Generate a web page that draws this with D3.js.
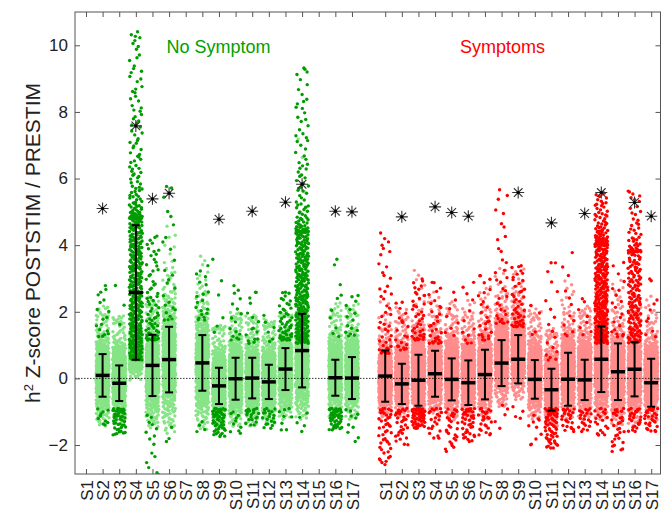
<!DOCTYPE html>
<html>
<head>
<meta charset="utf-8">
<script src="https://cdn.jsdelivr.net/npm/d3@7"></script>
<style>
  body { margin: 0; background: #fff; }
  text { font-family: "Liberation Sans", Arial, sans-serif; }
</style>
</head>
<body>
<svg id="chart" width="671" height="513"></svg>
<script>
var labels = ["S1","S2","S3","S4","S5","S6","S7","S8","S9","S10","S11","S12","S13","S14","S15","S16","S17"]
var yTicks = [-2, 0, 2, 4, 6, 8, 10]

// mean and SD of h2 z-score per subject (null = no data)
var nsMean = [null, 0.09, -0.145, 2.58, 0.39, 0.565, null, 0.465, -0.225, -0.01, 0.01, -0.105, 0.28, 0.835, null, 0.02, 0.01]
var nsSD   = [null, 0.64, 0.535, 2.02, 0.92, 0.985, null, 0.835, 0.545, 0.63, 0.61, 0.515, 0.63, 1.105, null, 0.54, 0.63]
var symMean = [0.07, -0.165, -0.055, 0.14, -0.03, -0.13, 0.115, 0.46, 0.575, -0.03, -0.34, -0.025, -0.045, 0.575, 0.2, 0.275, -0.13]
var symSD   = [0.77, 0.605, 0.765, 0.69, 0.63, 0.67, 0.745, 0.69, 0.725, 0.58, 0.63, 0.795, 0.605, 0.985, 0.85, 0.815, 0.72]

// significance markers (y of asterisk)
var nsStar  = [null, 5.1, null, 7.58, 5.39, 5.56, null, null, 4.78, null, 5.02, null, 5.29, 5.83, null, 5.02, 5.0]
var symStar = [null, 4.85, null, 5.15, 4.98, 4.87, null, null, 5.58, null, 4.67, null, 4.95, 5.58, null, 5.28, 4.87]

// point clouds:
// [bandLo, bandHi, lightTop, darkUpFrom, darkUpTo, darkUpN, darkDnFrom, darkDnTo, darkDnN, darkDenseTo]
var nsCloud = [
  null,
  [-1.2, 1.4, 2.2, 1.5, 2.8, 18, -1.0, -1.4, 10],
  [-1.1, 1.2, 1.9, 1.8, 2.8, 3, -1.0, -1.7, 45],
  [0.2, 1.3, 1.5, 0.8, 10.5, 450, -0.3, -0.6, 0, 4.8],
  [-1.3, 1.7, 2.5, 1.4, 4.3, 70, -1.2, -2.9, 15],
  [-1.4, 2.6, 4.6, 2.0, 5.8, 25, -1.5, -1.9, 3],
  null,
  [-1.3, 2.1, 3.8, 2.0, 3.4, 20, -1.3, -1.6, 4],
  [-1.3, 1.0, 1.6, 1.5, 3.6, 6, -1.0, -1.75, 50],
  [-1.2, 1.3, 2.0, 1.4, 2.8, 16, -1.1, -1.65, 10],
  [-1.2, 1.2, 1.9, 1.3, 2.6, 16, -1.0, -1.4, 20],
  [-1.1, 1.1, 1.8, 1.3, 1.9, 6, -1.0, -1.5, 20],
  [-1.0, 1.4, 2.0, 1.4, 2.6, 50, -1.0, -1.55, 8],
  [-1.0, 1.8, 7.5, 1.3, 9.4, 340, -1.1, -1.6, 5, 4.4],
  null,
  [-1.0, 1.4, 2.3, 1.5, 3.6, 10, -1.0, -1.55, 45],
  [-1.0, 1.4, 2.3, 1.5, 2.5, 15, -1.0, -1.9, 10]
]
var symCloud = [
  [-1.0, 1.0, 2.4, 1.0, 4.4, 45, -1.0, -2.6, 45],
  [-1.0, 1.2, 2.2, 1.1, 2.3, 20, -1.0, -2.0, 30],
  [-1.1, 1.5, 3.3, 1.4, 3.0, 40, -1.0, -1.5, 50],
  [-0.9, 1.4, 2.6, 1.3, 2.9, 30, -1.0, -1.8, 22],
  [-1.0, 1.4, 2.4, 1.5, 2.6, 8, -1.0, -2.2, 30],
  [-1.0, 1.3, 2.4, 1.3, 2.9, 12, -1.0, -1.9, 40],
  [-1.0, 1.5, 2.8, 1.4, 3.1, 25, -1.0, -1.7, 25],
  [-0.6, 2.0, 3.4, 1.9, 5.7, 35, -0.9, -1.5, 5],
  [-0.4, 2.1, 3.3, 1.8, 3.4, 45, -0.8, -1.2, 4],
  [-1.0, 1.3, 2.2, 1.5, 2.2, 4, -1.2, -2.0, 10],
  [-1.2, 0.8, 1.5, 0.8, 3.5, 18, -1.0, -2.1, 65],
  [-1.0, 1.5, 3.0, 1.5, 3.8, 12, -1.0, -1.6, 25],
  [-1.0, 1.4, 2.2, 1.5, 2.4, 8, -1.0, -1.6, 22],
  [-1.0, 1.8, 3.0, 1.3, 5.6, 320, -1.0, -1.7, 20, 4.0],
  [-1.2, 1.5, 3.0, 1.5, 3.5, 20, -1.0, -2.2, 30],
  [-1.2, 1.5, 2.6, 1.3, 5.7, 180, -1.0, -1.6, 25, 3.8],
  [-1.0, 1.2, 2.5, 1.5, 3.0, 10, -1.0, -1.6, 30]
]

var groups = [
  {mean: nsMean, sd: nsSD, star: nsStar, cloud: nsCloud, first: 1, light: "#86e486", dark: "#009c00"},
  {mean: symMean, sd: symSD, star: symStar, cloud: symCloud, first: 19, light: "#ff8c8c", dark: "#ff0000"}
]

var svg = d3.select("#chart")
var x = d3.scaleLinear().domain([0.34, 35.56]).range([75, 660.5])
var y = d3.scaleLinear().domain([-2.87, 11.0]).range([474, 12])

svg.append("clipPath").attr("id", "plot")
  .append("rect").attr("x", 75).attr("y", 12).attr("width", 585.5).attr("height", 462)

// spread the described distributions into strip points (halton quantiles, no randomness)
function halton(i, b) {
  var f = 1, r = 0
  while (i > 0) { f /= b; r += f * (i % b); i = Math.floor(i / b) }
  return r
}
var W = 0.78
var lightPts = [], darkPts = []
groups.forEach(function(g, gi) {
  g.cloud.forEach(function(p, k) {
    if (!p) return
    var pos = g.first + k, off = 1 + k * 37 + gi * 11
    var n = 540, c = (p[0] + p[1]) / 2, s = (p[1] - p[0]) / 6.5
    var top = p[1] + 0.45
    for (var i = 0; i < n; i++) {
      var q = halton(i + off, 2)
      var v = c + s * Math.log(q / (1 - q))
      if (v < p[0] - 0.25 || v > top) continue
      lightPts.push({x: pos + (halton(i + off, 3) - 0.5) * W, y: v, c: g.light})
    }
    if (p[2] > top) {
      for (var i = 0; i < 14; i++) {
        var q = halton(i + off, 2)
        lightPts.push({x: pos + (halton(i + off, 5) - 0.5) * W, y: top + (p[2] - top) * Math.pow(q, 1.8), c: g.light})
      }
    }
    // dark upper tail, eased into the top of the band
    var u0 = p[3] - 0.25
    for (var i = 0; i < p[5]; i++) {
      var q = i === 0 ? 0.995 : halton(i + off, 2), v
      if (p[9] !== undefined) {
        // dense body up to darkDenseTo, then a thinning tail
        v = q < 0.72 ? u0 + (p[9] - u0) * Math.pow(q / 0.72, 1.15)
                     : p[9] + (p[4] - p[9]) * Math.pow((q - 0.72) / 0.28, 2.3)
      } else {
        v = u0 + (p[4] - u0) * Math.pow(q, 1.8)
      }
      darkPts.push({x: pos + (halton(i + off, 3) - 0.5) * W, y: v, c: g.dark})
    }
    // dark lower tail
    var d0 = p[6] + 0.1
    for (var i = 0; i < p[8]; i++) {
      var q = i === 0 ? 0.995 : halton(i + off, 2)
      darkPts.push({x: pos + (halton(i + off, 5) - 0.5) * W, y: d0 - (d0 - p[7]) * Math.pow(q, 1.4), c: g.dark})
    }
  })
})

var pts = svg.append("g").attr("clip-path", "url(#plot)")
pts.selectAll("circle.l").data(lightPts).enter().append("circle")
  .attr("cx", function(d) { return x(d.x) })
  .attr("cy", function(d) { return y(d.y) })
  .attr("r", 1.7)
  .attr("fill", function(d) { return d.c })
pts.selectAll("circle.d").data(darkPts).enter().append("circle")
  .attr("cx", function(d) { return x(d.x) })
  .attr("cy", function(d) { return y(d.y) })
  .attr("r", 1.7)
  .attr("fill", function(d) { return d.c })

// zero line
svg.append("line")
  .attr("x1", 75).attr("x2", 660.5)
  .attr("y1", y(0)).attr("y2", y(0))
  .attr("stroke", "#000").attr("stroke-width", 0.8)
  .attr("stroke-dasharray", "1.5,1.5")

// mean +- SD bars and asterisks
groups.forEach(function(g) {
  g.mean.forEach(function(m, k) {
    if (m === null) return
    var cx = x(g.first + k), sd = g.sd[k]
    var eb = svg.append("g").attr("stroke", "#000")
    eb.append("line").attr("x1", cx).attr("x2", cx).attr("y1", y(m - sd)).attr("y2", y(m + sd)).attr("stroke-width", 2)
    eb.append("line").attr("x1", cx - 4).attr("x2", cx + 4).attr("y1", y(m - sd)).attr("y2", y(m - sd)).attr("stroke-width", 2)
    eb.append("line").attr("x1", cx - 4).attr("x2", cx + 4).attr("y1", y(m + sd)).attr("y2", y(m + sd)).attr("stroke-width", 2)
    eb.append("line").attr("x1", cx - 7).attr("x2", cx + 7).attr("y1", y(m)).attr("y2", y(m)).attr("stroke-width", 3.5)
  })
  g.star.forEach(function(v, k) {
    if (v === null) return
    var st = svg.append("g").attr("transform", "translate(" + x(g.first + k) + "," + y(v) + ")")
    st.append("path")
      .attr("d", "M-6,0L6,0M0,-6L0,6M-4.3,-4.3L4.3,4.3M-4.3,4.3L4.3,-4.3")
      .attr("stroke", "#333").attr("stroke-width", 1.1).attr("fill", "none")
    st.append("circle").attr("r", 1.6).attr("fill", "#000")
  })
})

// axes box with inward ticks
var tickPos = labels.map(function(d, i) { return i + 1 }).concat(labels.map(function(d, i) { return i + 19 }))
var tickLab = labels.concat(labels)

var xb = svg.append("g").attr("transform", "translate(0,474)")
  .call(d3.axisBottom(x).tickValues(tickPos).tickSize(-5).tickSizeOuter(0)
    .tickFormat(function(d, i) { return tickLab[i] }))
xb.selectAll("text")
  .attr("transform", "rotate(-90)")
  .attr("x", -6).attr("y", 0).attr("dy", "0.36em")
  .attr("text-anchor", "end")
  .attr("font-size", 17)

svg.append("g").attr("transform", "translate(0,12)")
  .call(d3.axisTop(x).tickValues(tickPos).tickSize(-5).tickSizeOuter(0).tickFormat(""))

svg.append("g").attr("transform", "translate(75,0)")
  .call(d3.axisLeft(y).tickValues(yTicks).tickSize(-5).tickSizeOuter(0).tickPadding(7))
  .selectAll("text").attr("font-size", 17)

svg.append("g").attr("transform", "translate(660.5,0)")
  .call(d3.axisRight(y).tickValues(yTicks).tickSize(-5).tickSizeOuter(0).tickFormat(""))

svg.selectAll(".domain").remove()
svg.selectAll(".tick line").attr("stroke", "#555")
svg.selectAll(".tick text").attr("fill", "#222").style("font-family", "'Liberation Sans', Arial, sans-serif")

svg.append("rect")
  .attr("x", 75).attr("y", 12).attr("width", 585.5).attr("height", 462)
  .attr("fill", "none").attr("stroke", "#555").attr("stroke-width", 1)

// labels
var yl = svg.append("text")
  .attr("transform", "translate(40,243) rotate(-90)")
  .attr("text-anchor", "middle")
  .attr("font-size", 21)
  .attr("fill", "#222")
yl.append("tspan").text("h")
yl.append("tspan").attr("baseline-shift", "super").attr("font-size", 13).text("2")
yl.append("tspan").text(" Z-score POSTSTIM / PRESTIM")

svg.append("text").attr("x", 218.5).attr("y", 53).attr("text-anchor", "middle")
  .attr("font-size", 18).attr("fill", "#00a000").text("No Symptom")
svg.append("text").attr("x", 502.5).attr("y", 53).attr("text-anchor", "middle")
  .attr("font-size", 18).attr("fill", "#ff0000").text("Symptoms")
</script>
</body>
</html>
